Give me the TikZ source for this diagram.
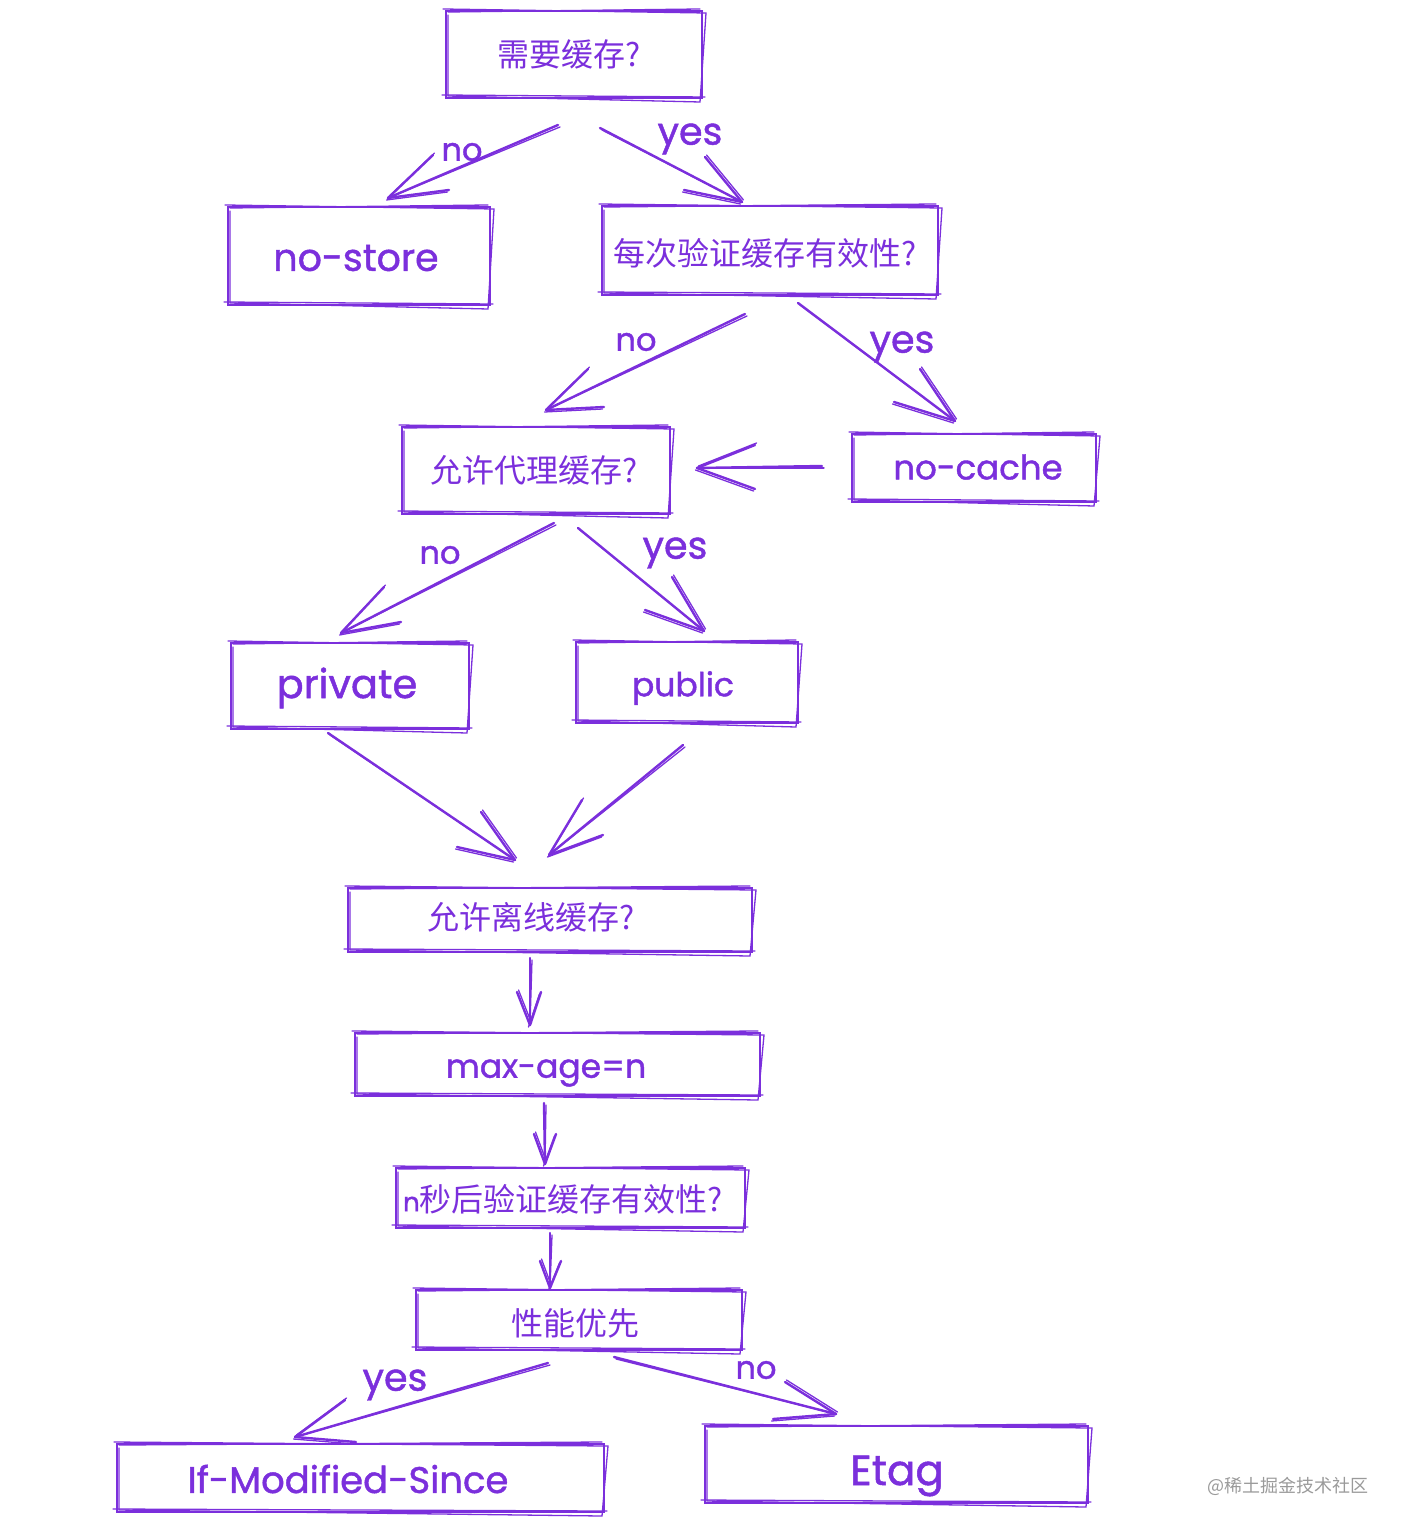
\documentclass[tikz,border=0pt]{standalone}
\usepackage{fontspec}
\setmainfont{Liberation Sans}
\newfontfamily\cjk{Noto Sans CJK SC}
\newfontfamily\hand[FakeBold=1.2]{Poppins}
\definecolor{ink}{HTML}{7B2FDC}
\definecolor{wm}{HTML}{9A9A9A}
\newcommand\sketchbox[5]{% name, cx, cy, w, h
  \node[boxnode,minimum width=#4*0.5pt,minimum height=#5*0.5pt] (#1) at (#2,#3) {};
  \draw[skin] ([shift={(-3,-2)}]#1.north west) -- ([shift={(4,2)}]#1.north east)
    -- ([shift={(-2,4)}]#1.south east) -- ([shift={(2,-2)}]#1.south west) -- ([shift={(2,4)}]#1.north west);
  \draw[skin] ([shift={(2,1)}]#1.north west) -- ([shift={(-2,-2)}]#1.north east);
  \draw[skin] ([shift={(-4,-3)}]#1.south west) -- ([shift={(3,-1)}]#1.south east);
}
\newcommand\conn[4]{% start, end, barb 1, barb 2
  \coordinate (connS) at #1;
  \coordinate (connE) at #2;
  \draw[wire] (connS) -- (connE);
  \draw[skin] ([shift={(2,2)}]connS) -- (connE);
  \draw[wire] (connE) -- ++#3;
  \draw[skin] ([shift={(1.5,-2)}]connE) -- ++#3;
  \draw[wire] (connE) -- ++#4;
  \draw[skin] ([shift={(-1.5,2)}]connE) -- ++#4;
}
\begin{document}
\begin{tikzpicture}[x=0.5pt,y=-0.5pt,
  boxnode/.style={draw=ink,line width=1.4pt,rectangle,inner sep=0pt,outer sep=0pt},
  skin/.style={draw=ink,line width=0.65pt,line cap=round},
  wire/.style={draw=ink,line width=1.2pt,line cap=round},
  cjklabel/.style={text=ink,inner sep=0pt,font=\cjk\fontsize{16}{19}\selectfont},
  latlabel/.style={text=ink,inner sep=0pt},
  edgelabel/.style={text=ink,inner sep=0pt,font=\hand\fontsize{16}{19}\selectfont},
  yeslabel/.style={text=ink,inner sep=0pt,font=\hand\fontsize{19}{22}\selectfont}]
\useasboundingbox (0,0) rectangle (1406,1534);
\sketchbox{need}{574}{54.5}{256}{87}
\sketchbox{nostore}{359}{256}{262}{98}
\sketchbox{every}{770}{250.5}{336}{89}
\sketchbox{proxy}{536}{470.5}{268}{87}
\sketchbox{nocache}{974}{468}{244}{68}
\sketchbox{private}{350}{686}{238}{86}
\sketchbox{public}{687}{682.5}{222}{81}
\sketchbox{offline}{550}{920}{404}{64}
\sketchbox{maxage}{557.5}{1064.5}{405}{63}
\sketchbox{nsec}{570.5}{1198}{349}{60}
\sketchbox{perf}{579}{1320}{326}{60}
\sketchbox{ifmod}{360.5}{1478}{487}{68}
\sketchbox{etag}{896.5}{1464.5}{383}{77}
\node[cjklabel] (t1) at (569,54) {需要缓存?};
\node[latlabel,font=\hand\fontsize{19}{22}\selectfont] (t2) at (356,258) {no-store};
\node[cjklabel] (t3) at (765,253) {每次验证缓存有效性?};
\node[cjklabel] (t4) at (534,470) {允许代理缓存?};
\node[latlabel,font=\hand\fontsize{17}{20}\selectfont] (t5) at (978,467) {no-cache};
\node[latlabel,font=\hand\fontsize{20}{23}\selectfont] (t6) at (347,688) {private};
\node[latlabel,font=\hand\fontsize{16.5}{20}\selectfont] (t7) at (683,688) {public};
\node[cjklabel] (t8) at (531,917) {允许离线缓存?};
\node[latlabel,font=\hand\fontsize{16.5}{20}\selectfont] (t9) at (546,1073) {max-age=n};
\node[cjklabel] (t10) at (563,1199) {{\hand\fontsize{13}{17}\selectfont n}秒后验证缓存有效性?};
\node[cjklabel] (t11) at (575,1323) {性能优先};
\node[latlabel,font=\hand\fontsize{18.5}{22}\selectfont] (t12) at (348,1479) {If-Modified-Since};
\node[latlabel,font=\hand\fontsize{21}{24}\selectfont] (t13) at (897,1476) {Etag};
\node[edgelabel] (l1) at (462,152) {no};
\node[yeslabel] (l2) at (690,139) {yes};
\node[edgelabel] (l3) at (636,342) {no};
\node[yeslabel] (l4) at (902,347) {yes};
\node[edgelabel] (l5) at (440,555) {no};
\node[yeslabel] (l6) at (675,553) {yes};
\node[yeslabel] (l7) at (395,1385) {yes};
\node[edgelabel] (l8) at (756,1370) {no};
\node[text=wm,inner sep=0pt,font=\cjk\fontsize{9}{11}\selectfont] (wmark) at (1288,1486) {@稀土掘金技术社区};
\conn{([shift={(-16,27)}]need.south)}{([shift={(29,-9)}]nostore.north)}{(45,-43)}{(61,-8)}
\conn{([shift={(26,30)}]need.south)}{([shift={(-28,-4)}]every.north)}{(-37,-45)}{(-58,-12)}
\conn{([shift={(-25,19)}]every.south)}{([shift={(10,-17)}]proxy.north)}{(42,-41)}{(58,-3)}
\conn{([shift={(28,8)}]every.south)}{([shift={(-19,-13)}]nocache.north)}{(-35,-52)}{(-61,-19)}
\conn{([shift={(-30,-2)}]nocache.west)}{([shift={(27,-2.5)}]proxy.east)}{(58,-23)}{(58,21)}
\conn{([shift={(18,9)}]proxy.south)}{([shift={(-9,-10)}]private.north)}{(43,-46)}{(60,-11)}
\conn{([shift={(42,14)}]proxy.south)}{([shift={(17,-11)}]public.north)}{(-32,-54)}{(-59,-21)}
\conn{([shift={(-22,4)}]private.south)}{([shift={(-35,-28)}]offline.north)}{(-34,-48)}{(-58,-13)}
\conn{([shift={(-4,22)}]public.south)}{([shift={(-1,-33)}]offline.north)}{(33,-55)}{(54,-20)}
\conn{([shift={(-20,6)}]offline.south)}{([shift={(-27.5,-8)}]maxage.north)}{(-13,-33)}{(11,-33)}
\conn{([shift={(-13.5,7)}]maxage.south)}{([shift={(-25.5,-4)}]nsec.north)}{(-11,-30)}{(11,-30)}
\conn{([shift={(-20.5,5)}]nsec.south)}{([shift={(-29,-2)}]perf.north)}{(-10,-27)}{(11,-27)}
\conn{([shift={(-31,13)}]perf.south)}{([shift={(-65.5,-7)}]ifmod.north)}{(50,-37)}{(61,5)}
\conn{([shift={(35,7)}]perf.south)}{([shift={(-60.5,-12)}]etag.north)}{(-51,-32)}{(-63,5)}
\end{tikzpicture}
\end{document}
